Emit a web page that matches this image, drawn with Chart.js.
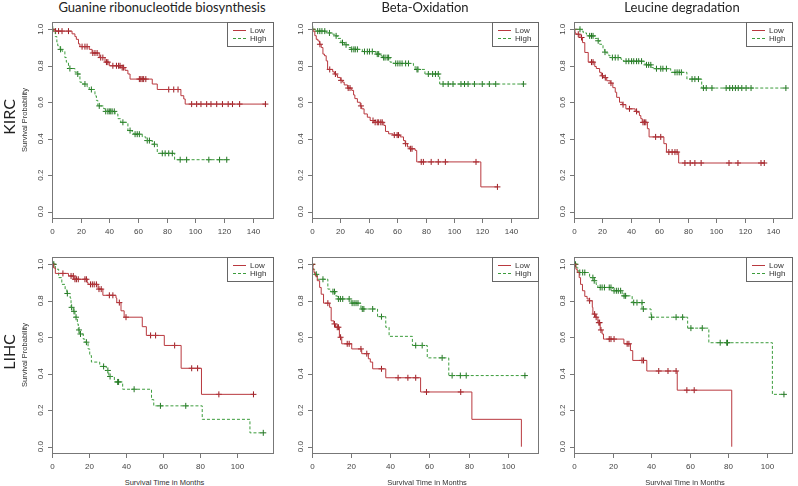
<!DOCTYPE html>
<html>
<head>
<meta charset="utf-8">
<script src="https://cdn.jsdelivr.net/npm/chart.js@4.4.1/dist/chart.umd.min.js"></script>
<style>
  body { margin:0; background:#fff; width:798px; height:486px; position:relative; overflow:hidden;
         font-family:"Liberation Sans", Arial, sans-serif; }
  canvas { position:absolute; }
  .txt { position:absolute; white-space:nowrap; transform:translate(-50%,-50%); color:#222; }
  .title { font-family:Lato, "Open Sans", sans-serif; font-size:13px; }
  .row { font-family:Lato, "Open Sans", sans-serif; font-size:16px; transform:translate(-50%,-50%) rotate(-90deg); }
  .ylab { font-size:7.5px; color:#333; transform:translate(-50%,-50%) rotate(-90deg); }
  .xlab { font-size:7.5px; color:#333; }
</style>
</head>
<body>
<script>
// ---- data ----
var columns = ["Guanine ribonucleotide biosynthesis", "Beta-Oxidation", "Leucine degradation"];
var rows = ["KIRC", "LIHC"];
var groups = ["Low", "High"];
var yTicks = [0, 0.2, 0.4, 0.6, 0.8, 1.0];
var xTicksKIRC = [0, 20, 40, 60, 80, 100, 120, 140];
var xTicksLIHC = [0, 20, 40, 60, 80, 100];
var yTitle = "Survival Probability";
var xTitle = "Survival Time in Months";

// KIRC - Guanine ribonucleotide biosynthesis
var kircGuanineLow = [[0,1],[2,0.99],[14,0.975],[16,0.96],[17,0.945],[18.5,0.92],[19.5,0.905],[26,0.89],[28,0.87],[33,0.845],[37,0.82],[40,0.80],[48,0.79],[51,0.775],[53,0.755],[54.5,0.727],[70,0.70],[73.5,0.67],[90,0.636],[92,0.618],[93,0.59],[149,0.59]];
var kircGuanineLowCens = [[2.5,0.99],[4.6,0.99],[7,0.99],[11.5,0.99],[21,0.905],[23,0.905],[24.5,0.905],[28.5,0.87],[30,0.87],[31.5,0.87],[34,0.845],[35.5,0.845],[38,0.82],[39,0.82],[42.5,0.80],[45,0.80],[46.5,0.80],[47.5,0.80],[49,0.79],[50,0.79],[61,0.727],[62,0.727],[63,0.727],[64,0.727],[65.5,0.727],[81.5,0.67],[85,0.67],[88,0.67],[97.5,0.59],[101,0.59],[104,0.59],[108,0.59],[111,0.59],[115,0.59],[119,0.59],[123,0.59],[126,0.59],[131,0.59],[149,0.59]];
var kircGuanineHigh = [[0,1],[1,0.99],[2.3,0.96],[3.4,0.93],[4,0.91],[5.7,0.89],[7,0.88],[9,0.845],[10,0.82],[11.5,0.785],[16,0.765],[17.5,0.755],[19.5,0.71],[21,0.70],[24.5,0.685],[26,0.67],[30,0.635],[31,0.61],[32,0.58],[36,0.565],[37,0.55],[44,0.536],[46,0.51],[48,0.49],[53,0.445],[56,0.43],[57,0.425],[63,0.41],[65.5,0.39],[70,0.37],[73.5,0.32],[85.6,0.285],[123,0.285]];
var kircGuanineHighCens = [[0.5,1],[6,0.89],[12.5,0.785],[18,0.755],[23,0.70],[27.5,0.67],[33,0.58],[37.5,0.55],[39,0.55],[40,0.55],[41,0.55],[42,0.55],[43.5,0.55],[49.5,0.49],[54.5,0.445],[58,0.425],[59.5,0.425],[61,0.425],[66.5,0.39],[68,0.39],[71.5,0.37],[77,0.32],[79,0.32],[81.5,0.32],[84,0.32],[89.5,0.285],[94,0.285],[109.5,0.285],[117,0.285],[122,0.285]];

// KIRC - Beta-Oxidation
var kircBetaLow = [[0,1],[0.7,0.99],[2,0.965],[3,0.945],[4.2,0.936],[5.3,0.918],[6.5,0.90],[7.7,0.864],[8.8,0.855],[10,0.827],[11,0.78],[14.6,0.767],[15.8,0.755],[17,0.75],[18,0.736],[20,0.72],[21.6,0.71],[22.7,0.695],[25,0.678],[28,0.665],[29.3,0.64],[30.2,0.62],[32,0.60],[34,0.58],[35,0.564],[36.7,0.536],[39,0.518],[41,0.50],[43.6,0.49],[50.6,0.473],[51.8,0.44],[54,0.427],[57,0.42],[62.2,0.41],[64.5,0.39],[65.7,0.373],[67.3,0.355],[69,0.345],[72.7,0.336],[73.8,0.273],[119,0.136],[131,0.136]];
var kircBetaLowCens = [[0.3,1],[5.6,0.918],[12.5,0.78],[16.5,0.755],[20.5,0.72],[25.5,0.678],[26.8,0.678],[34.5,0.58],[43,0.50],[44.5,0.49],[46,0.49],[47,0.49],[48.5,0.49],[49.5,0.49],[58,0.42],[60,0.42],[61,0.42],[66,0.373],[69.5,0.345],[70.5,0.345],[77,0.273],[78.5,0.273],[84,0.273],[89,0.273],[94,0.273],[115.6,0.273],[130.7,0.136]];
var kircBetaHigh = [[0,1],[2,0.99],[10,0.98],[14.6,0.973],[16,0.964],[18,0.95],[20.4,0.927],[22.8,0.915],[26,0.90],[27.4,0.89],[35.5,0.878],[45,0.864],[48.3,0.855],[49.5,0.845],[55,0.82],[57.6,0.813],[71.5,0.80],[72.7,0.78],[79.6,0.755],[90,0.70],[149,0.70]];
var kircBetaHighCens = [[0.5,1],[4,0.99],[5.5,0.99],[7,0.99],[9,0.99],[12.3,0.98],[17,0.964],[21.5,0.927],[24,0.915],[28,0.89],[29.5,0.89],[30.5,0.89],[32,0.89],[37,0.878],[39,0.878],[40.5,0.878],[42.5,0.878],[46,0.864],[47,0.864],[50.5,0.845],[51.5,0.845],[53,0.845],[54,0.845],[59,0.813],[60.5,0.813],[62,0.813],[63.5,0.813],[66,0.813],[68,0.813],[74,0.78],[74.7,0.78],[82,0.755],[85,0.755],[87,0.755],[89,0.755],[92.4,0.70],[96,0.70],[99.4,0.70],[105,0.70],[107.5,0.70],[110,0.70],[114.5,0.70],[120,0.70],[125,0.70],[129.5,0.70],[149,0.70]];

// KIRC - Leucine degradation
var kircLeucineLow = [[0,1],[0.7,0.98],[1.4,0.973],[4.2,0.955],[6,0.927],[7.6,0.873],[10,0.82],[14.6,0.796],[15.7,0.785],[18,0.764],[19.2,0.745],[21,0.735],[23,0.718],[25.5,0.705],[27.3,0.68],[29,0.655],[30,0.627],[32,0.60],[34,0.587],[36.5,0.564],[43,0.55],[44.5,0.545],[46,0.527],[47,0.51],[48,0.49],[51.6,0.455],[52.8,0.41],[63.2,0.373],[65,0.327],[73.6,0.267],[134,0.267]];
var kircLeucineLowCens = [[0.2,1],[3,0.973],[5.3,0.955],[12.3,0.82],[13.4,0.82],[20,0.745],[22,0.735],[26,0.705],[34.5,0.587],[39,0.564],[44,0.55],[48.5,0.49],[49.5,0.49],[50.5,0.49],[57.4,0.41],[61,0.41],[66.7,0.327],[69,0.327],[71,0.327],[72.5,0.327],[78,0.267],[81.7,0.267],[85,0.267],[89.4,0.267],[109,0.267],[115.3,0.267],[131.5,0.267],[133.8,0.267]];
var kircLeucineHigh = [[0,1],[5,0.99],[6.5,0.98],[8.8,0.973],[10,0.964],[14.6,0.95],[16.5,0.937],[18,0.918],[20.4,0.89],[21.5,0.875],[22.7,0.87],[24.5,0.855],[25.5,0.845],[33,0.836],[34.7,0.825],[49.3,0.81],[50.5,0.805],[54.6,0.79],[57,0.784],[68,0.764],[79.4,0.727],[89.8,0.678],[149,0.678]];
var kircLeucineHighCens = [[4.2,1],[11,0.964],[12.3,0.964],[13.4,0.964],[17,0.937],[21.8,0.875],[27,0.845],[29,0.845],[31,0.845],[36.6,0.825],[38.5,0.825],[40.5,0.825],[42,0.825],[44,0.825],[45.5,0.825],[47.5,0.825],[51,0.805],[52.5,0.805],[54,0.805],[58,0.784],[61,0.784],[62.5,0.784],[65,0.784],[71,0.764],[72.5,0.764],[74,0.764],[75.5,0.764],[83,0.727],[85,0.727],[87.5,0.727],[91,0.678],[93,0.678],[97,0.678],[107,0.678],[109.5,0.678],[111.5,0.678],[113.5,0.678],[115.5,0.678],[118,0.678],[121,0.678],[124.5,0.678],[149,0.678]];

// LIHC - Guanine ribonucleotide biosynthesis
var lihcGuanineLow = [[0,1],[0.9,0.98],[1.8,0.95],[8.9,0.936],[11.9,0.918],[19,0.90],[19.5,0.89],[24.9,0.864],[27.5,0.83],[34.6,0.815],[35,0.79],[37.3,0.745],[39,0.71],[48.8,0.658],[51,0.61],[60.7,0.555],[69.8,0.43],[80.8,0.287],[108.9,0.287]];
var lihcGuanineLowCens = [[0.3,1],[5.9,0.95],[10.3,0.936],[11.5,0.936],[12.4,0.918],[13.2,0.918],[14.2,0.918],[17.8,0.918],[18.6,0.918],[20.8,0.89],[21.8,0.89],[22.8,0.89],[24,0.89],[25.4,0.864],[26.6,0.864],[31,0.83],[32.9,0.83],[36.4,0.79],[40,0.71],[53.3,0.61],[56,0.61],[66.3,0.555],[75.5,0.43],[78.7,0.43],[90.2,0.287],[108.9,0.287]];
var lihcGuanineHigh = [[0,1],[1.8,0.973],[3.6,0.927],[5.3,0.89],[7.1,0.864],[8,0.84],[9.8,0.815],[10.3,0.764],[11.5,0.742],[12.4,0.71],[13.7,0.673],[14.2,0.64],[15,0.618],[16.9,0.59],[17.8,0.573],[19.5,0.536],[20.4,0.50],[21.3,0.464],[25.8,0.44],[29.3,0.418],[30.7,0.385],[33.7,0.355],[38.2,0.315],[53.8,0.258],[55,0.224],[81.2,0.15],[107,0.076],[114.2,0.076]];
var lihcGuanineHighCens = [[0.5,1],[1,1],[8.3,0.84],[10.6,0.764],[11.9,0.742],[13,0.71],[14.6,0.64],[15.4,0.618],[18.6,0.573],[27.9,0.44],[30.2,0.418],[31.4,0.385],[35.5,0.355],[36,0.355],[44.4,0.315],[58.6,0.224],[72.3,0.224],[114.2,0.076]];

// LIHC - Beta-Oxidation
var lihcBetaLow = [[0,1],[0.5,0.973],[1,0.955],[1.7,0.936],[2.7,0.91],[3.9,0.873],[4.7,0.836],[5.9,0.787],[9,0.764],[9.8,0.69],[11.2,0.673],[12,0.655],[14,0.60],[15.2,0.564],[20.3,0.536],[25.4,0.51],[28.8,0.482],[29.8,0.464],[31,0.427],[37.7,0.378],[55.5,0.30],[81.7,0.15],[107,0]];
var lihcBetaLowCens = [[0.2,1],[8.1,0.787],[11.5,0.673],[12.9,0.655],[13.5,0.655],[14.6,0.60],[18,0.564],[19,0.564],[25,0.536],[28,0.51],[35.5,0.427],[44,0.378],[49,0.378],[53,0.378],[58.5,0.30],[76,0.30]];
var lihcBetaHigh = [[0,1],[0.5,0.973],[1.4,0.945],[2.7,0.918],[8.1,0.864],[9.5,0.85],[11.8,0.827],[12.9,0.81],[20,0.787],[25,0.755],[33.5,0.713],[37.7,0.655],[39.4,0.605],[51.3,0.555],[58.9,0.487],[69.9,0.39],[108.8,0.39]];
var lihcBetaHighCens = [[0.1,1],[2.2,0.945],[5.6,0.918],[10.7,0.85],[11.5,0.85],[13.5,0.81],[14.5,0.81],[15.7,0.81],[19,0.81],[20.5,0.787],[21.5,0.787],[22.5,0.787],[23.5,0.787],[25.7,0.755],[26.5,0.755],[31,0.755],[35.5,0.713],[53,0.555],[56.3,0.555],[66.5,0.487],[71.6,0.39],[75.8,0.39],[78.8,0.39],[108.8,0.39]];

// LIHC - Leucine degradation
var lihcLeucineLow = [[0,1],[1,0.973],[1.7,0.955],[2.7,0.927],[3.4,0.89],[4.4,0.855],[5.6,0.824],[6.8,0.81],[8,0.80],[9.5,0.764],[9.8,0.727],[11.2,0.71],[12.4,0.68],[13.6,0.64],[14.6,0.618],[15.3,0.59],[25.9,0.564],[29.3,0.527],[30.5,0.473],[37.8,0.415],[53.6,0.31],[81.9,0]];
var lihcLeucineLowCens = [[0.2,1],[8.1,0.80],[10.7,0.727],[11.5,0.71],[12.9,0.68],[13.3,0.68],[14,0.64],[18.3,0.59],[19.2,0.59],[20.8,0.59],[27.6,0.564],[28.5,0.564],[35.3,0.473],[36.1,0.473],[44,0.415],[48.8,0.415],[53,0.415],[58.6,0.31],[62.4,0.31]];
var lihcLeucineHigh = [[0,1],[1.4,0.98],[2.2,0.955],[8.1,0.927],[10.7,0.91],[11.5,0.89],[12.4,0.873],[20,0.855],[25,0.827],[30.2,0.79],[35.3,0.755],[40,0.71],[59,0.65],[70,0.57],[103,0.287],[109,0.287]];
var lihcLeucineHighCens = [[0.3,1],[0.8,1],[3,0.955],[4.5,0.955],[5.6,0.955],[9.8,0.927],[10.5,0.91],[13.6,0.873],[14.6,0.873],[15.8,0.873],[18.3,0.873],[19.2,0.873],[20.8,0.855],[22,0.855],[23,0.855],[24.2,0.855],[26,0.827],[26.8,0.827],[31,0.79],[32.7,0.79],[35.3,0.79],[36,0.755],[40.3,0.71],[53,0.71],[56.4,0.71],[60.7,0.65],[66.6,0.65],[75.9,0.57],[79.3,0.57],[79.7,0.57],[109,0.287]];

// ---- layout / style ----
var colLeft = [52, 312, 574], colRight = [277, 542, 796];
var rowTop = [21, 256], rowBottom = [219, 454];
var xMax = [[155, 160, 154], [120, 116, 113.7]];
var PAD = {left: 48, top: 4, right: 2, bottom: 22};
var red = "#b9393f", redMark = "#9a1a20";
var green = "#3c9c3c", greenMark = "#237523";

var panels = [
  [[kircGuanineLow, kircGuanineLowCens, kircGuanineHigh, kircGuanineHighCens],
   [kircBetaLow, kircBetaLowCens, kircBetaHigh, kircBetaHighCens],
   [kircLeucineLow, kircLeucineLowCens, kircLeucineHigh, kircLeucineHighCens]],
  [[lihcGuanineLow, lihcGuanineLowCens, lihcGuanineHigh, lihcGuanineHighCens],
   [lihcBetaLow, lihcBetaLowCens, lihcBetaHigh, lihcBetaHighCens],
   [lihcLeucineLow, lihcLeucineLowCens, lihcLeucineHigh, lihcLeucineHighCens]]
];

function pts(a) { return a.map(function(p){ return {x: p[0], y: p[1]}; }); }

function addText(cls, text, x, y) {
  var d = document.createElement("div");
  d.className = "txt " + cls;
  d.textContent = text;
  d.style.left = x + "px";
  d.style.top = y + "px";
  document.body.appendChild(d);
}

// draws the R style box, axes, ticks and legend
var rPlot = {
  id: "rPlot",
  afterDraw: function(chart) {
    var ctx = chart.ctx, a = chart.chartArea;
    var xs = chart.scales.x, ys = chart.scales.y;
    var xt = chart.options.plugins.rPlot.xTicks;
    ctx.save();
    ctx.strokeStyle = "#777";
    ctx.lineWidth = 1;
    ctx.strokeRect(a.left + 0.5, a.top + 0.5, a.right - a.left - 1, a.bottom - a.top - 1);

    ctx.fillStyle = "#444";
    ctx.font = "8px 'Liberation Sans', Arial, sans-serif";
    ctx.textAlign = "center";
    ctx.textBaseline = "middle";
    ctx.beginPath();
    xt.forEach(function(v) {
      var px = Math.round(xs.getPixelForValue(v)) + 0.5;
      ctx.moveTo(px, a.bottom); ctx.lineTo(px, a.bottom + 4);
      ctx.fillText(String(v), px, a.bottom + 13);
    });
    yTicks.forEach(function(v) {
      var py = Math.round(ys.getPixelForValue(v)) + 0.5;
      ctx.moveTo(a.left - 4, py); ctx.lineTo(a.left, py);
    });
    ctx.stroke();
    yTicks.forEach(function(v) {
      var py = ys.getPixelForValue(v);
      ctx.save();
      ctx.translate(a.left - 11, py);
      ctx.rotate(-Math.PI / 2);
      ctx.fillText(v.toFixed(1), 0, 0);
      ctx.restore();
    });

    // legend
    var lw = 47, lh = 24, lx = a.right - lw, ly = a.top;
    ctx.strokeStyle = "#666";
    ctx.strokeRect(lx + 0.5, ly + 0.5, lw - 1, lh);
    ctx.textAlign = "left";
    ctx.fillStyle = "#333";
    [[groups[0], red, []], [groups[1], green, [3, 2]]].forEach(function(g, i) {
      var yy = ly + 8.5 + i * 8;
      ctx.strokeStyle = g[1];
      ctx.setLineDash(g[2]);
      ctx.beginPath(); ctx.moveTo(lx + 6, yy); ctx.lineTo(lx + 19, yy); ctx.stroke();
      ctx.setLineDash([]);
      ctx.fillText(g[0], lx + 23, yy);
    });
    ctx.restore();
  }
};

for (var r = 0; r < 2; r++) {
  for (var c = 0; c < 3; c++) {
    var L = colLeft[c], R = colRight[c], T = rowTop[r], B = rowBottom[r];
    var cv = document.createElement("canvas");
    cv.width = R - L + PAD.left + PAD.right;
    cv.height = B - T + PAD.top + PAD.bottom;
    cv.style.left = (L - PAD.left) + "px";
    cv.style.top = (T - PAD.top) + "px";
    document.body.appendChild(cv);
    var d = panels[r][c];
    new Chart(cv, {
      type: "line",
      data: {
        datasets: [
          {label: groups[0], data: pts(d[0]), stepped: "before", borderColor: red, borderWidth: 1, pointRadius: 0, fill: false},
          {label: groups[1], data: pts(d[2]), stepped: "before", borderColor: green, borderWidth: 1, borderDash: [3, 2], pointRadius: 0, fill: false},
          {type: "scatter", label: groups[0] + " censored", data: pts(d[1]), pointStyle: "cross", pointRadius: 3, borderColor: redMark, borderWidth: 1, showLine: false},
          {type: "scatter", label: groups[1] + " censored", data: pts(d[3]), pointStyle: "cross", pointRadius: 3, borderColor: greenMark, borderWidth: 1, showLine: false}
        ]
      },
      options: {
        responsive: false,
        animation: false,
        layout: {padding: PAD},
        scales: {
          x: {type: "linear", min: 0, max: xMax[r][c], display: false},
          y: {type: "linear", min: -0.04, max: 1.04, display: false}
        },
        plugins: {
          legend: {display: false},
          tooltip: {enabled: false},
          rPlot: {xTicks: r === 0 ? xTicksKIRC : xTicksLIHC}
        }
      },
      plugins: [rPlot]
    });
  }
}

// titles and labels
addText("title", columns[0], 162, 7);
addText("title", columns[1], 425, 7);
addText("title", columns[2], 682, 7);
addText("row", rows[0], 8, 117);
addText("row", rows[1], 8, 352);
addText("ylab", yTitle, 24, 120);
addText("ylab", yTitle, 24, 355);
for (var k = 0; k < 3; k++) addText("xlab", xTitle, (colLeft[k] + colRight[k]) / 2, 482);
</script>
</body>
</html>
